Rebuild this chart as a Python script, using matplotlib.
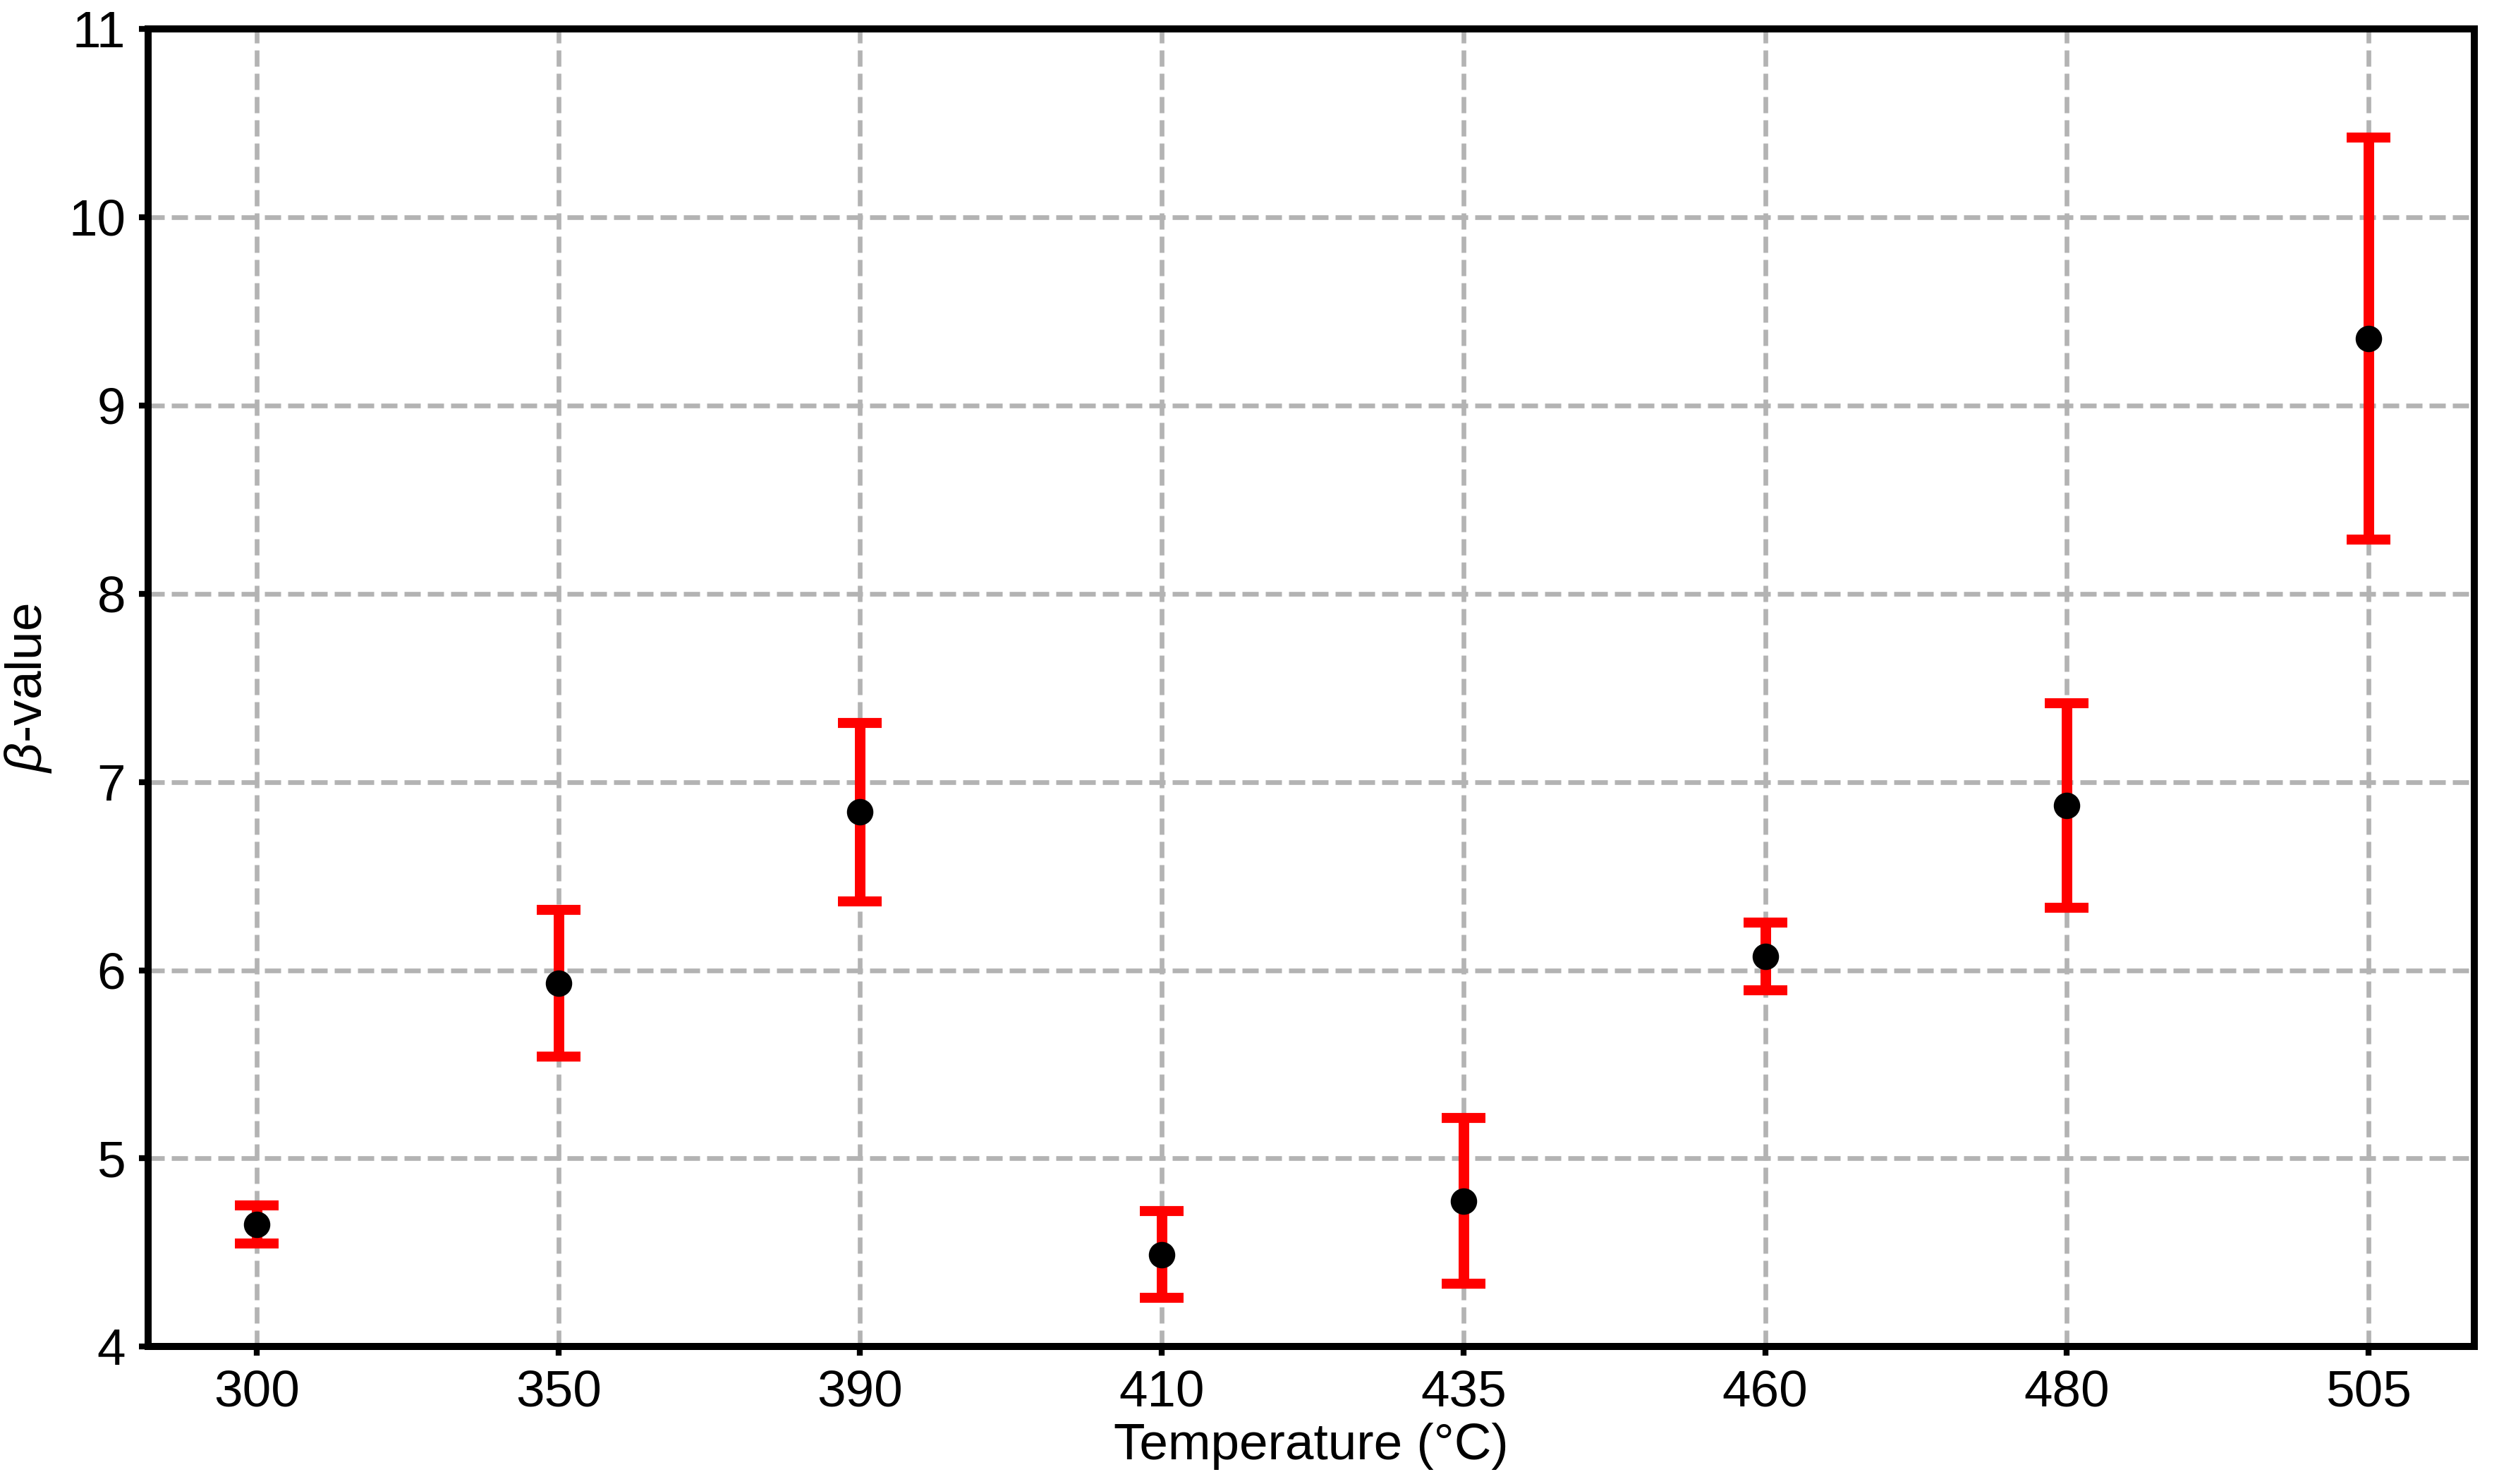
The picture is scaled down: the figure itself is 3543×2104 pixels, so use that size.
import matplotlib
matplotlib.use("Agg")
import matplotlib.pyplot as plt
import numpy as np

# Data
temperatures = ["300", "350", "390", "410", "435", "460", "480", "505"]
beta_values = [4.65, 5.93, 6.84, 4.49, 4.775, 6.075, 6.875, 9.355]
beta_errors = [0.10, 0.39, 0.475, 0.23, 0.44, 0.18, 0.545, 1.067]
y_ticks = [4, 5, 6, 7, 8, 9, 10, 11]

plt.rcParams['font.family'] = ['Liberation Sans', 'DejaVu Sans']
plt.rcParams['mathtext.fontset'] = 'custom'
plt.rcParams['mathtext.it'] = 'Liberation Sans:italic'
plt.rcParams['mathtext.rm'] = 'Liberation Sans'

fig = plt.figure(figsize=(3543/300, 2104/300), dpi=300)
ax = fig.add_axes([0.0593, 0.0925, 0.9307, 0.888])

x = np.arange(len(temperatures))
ax.errorbar(x, beta_values, yerr=beta_errors, fmt='o', color='black',
            ecolor='red', elinewidth=3.6, capsize=7.5, capthick=3.4,
            markersize=8, zorder=3)

ax.set_xlim(-0.36, 7.35)
ax.set_ylim(4, 11)
ax.set_xticks(x)
ax.set_xticklabels(temperatures)
ax.set_yticks(y_ticks)

ax.grid(True, color='#b3b3b3', linestyle=(0, (3.45, 1.5)), linewidth=1.6, zorder=0)
ax.set_axisbelow(True)

for s in ax.spines.values():
    s.set_linewidth(2.4)
ax.tick_params(axis='both', labelsize=17.5, length=3.2, width=2, direction='out', pad=4.5)

ax.set_xlabel('Temperature (°C)', fontsize=17.5, labelpad=2)
ax.set_ylabel(r'$\beta$-value', fontsize=17.5, labelpad=5)

fig.savefig('out.png', dpi=300)
